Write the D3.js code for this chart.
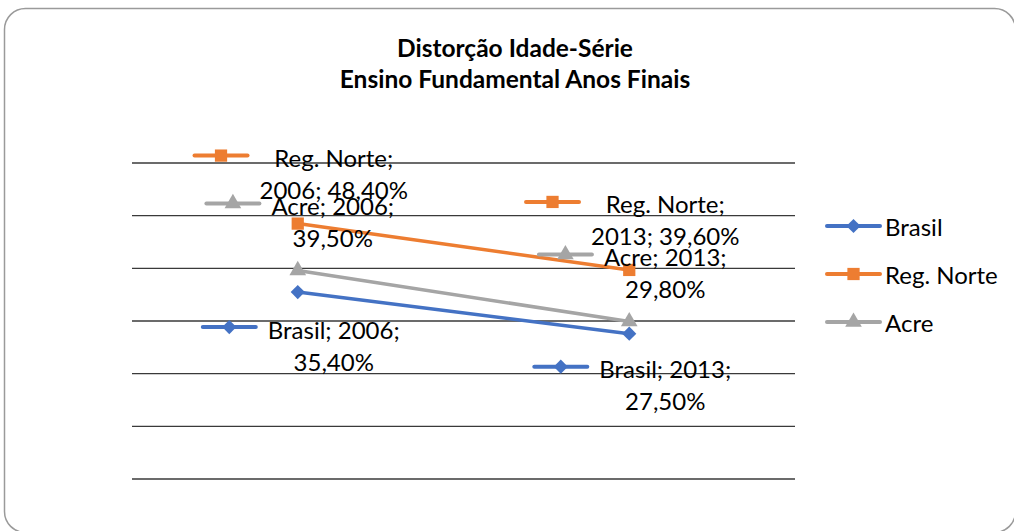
<!DOCTYPE html>
<html><head><meta charset="utf-8">
<script src="https://cdn.jsdelivr.net/npm/d3@7"></script>
<style>html,body{margin:0;padding:0;background:#fff;} svg{display:block;}</style>
</head><body>
<script>
// ---- data ----
const categories = ["2006", "2013"];
const seriesNames = ["Brasil", "Reg. Norte", "Acre"];
const brasil = [35.4, 27.5];
const regNorte = [48.4, 39.6];
const acre = [39.5, 29.8];
const yTicks = [0, 10, 20, 30, 40, 50, 60];
const titleLines = ["Distorção Idade-Série", "Ensino Fundamental Anos Finais"];

// label offsets (block centre dx, first line dy) relative to data point
const labelOffsets = {
  "Brasil": [[3, 37], [3, 35]],
  "Reg. Norte": [[3, -66], [3, -66]],
  "Acre": [[2, -65], [3, -65]]
};

const W = 1014, H = 531;
const FONT = "Lato, 'Open Sans', sans-serif";
const colors = {"Brasil": "#4472C4", "Reg. Norte": "#ED7D31", "Acre": "#A5A5A5"};
const symbols = {"Brasil": d3.symbolSquare, "Reg. Norte": d3.symbolSquare, "Acre": d3.symbolTriangle};
const symRot = {"Brasil": 45, "Reg. Norte": 0, "Acre": 0};
const symSize = {"Brasil": 100, "Reg. Norte": 150, "Acre": 120};

const series = [
  {name: seriesNames[0], values: brasil},
  {name: seriesNames[1], values: regNorte},
  {name: seriesNames[2], values: acre}
];

const svg = d3.select("body").append("svg").attr("width", W).attr("height", H);

// frame
svg.append("rect").attr("x", 4.5).attr("y", 8.5).attr("width", 1011).attr("height", 524)
  .attr("rx", 21).attr("ry", 21).attr("fill", "#fff").attr("stroke", "#9a9a9a").attr("stroke-width", 1.5);

// title
const title = svg.append("text").attr("text-anchor", "middle").attr("font-family", FONT)
  .attr("font-weight", "bold").attr("font-size", 24.5).attr("fill", "#000");
titleLines.forEach((t, i) => title.append("tspan").attr("x", 515).attr("y", 57 + i * 31).text(t));

const x = d3.scaleBand().domain(categories).range([132, 795]);
const y = d3.scaleLinear().domain([0, 60]).range([478.5, 162.5]);
const px = c => x(c) + x.bandwidth() / 2;

// gridlines
const yAxis = d3.axisLeft(y).tickValues(yTicks).tickSize(-(795 - 132)).tickFormat("");
const ga = svg.append("g").attr("transform", "translate(132,0)").call(yAxis);
ga.select(".domain").remove();
ga.selectAll(".tick line").attr("stroke", "#3a3a3a").attr("stroke-width", 1.3);

// lines
const line = d3.line().x((d, i) => px(categories[i])).y(d => y(d));
series.forEach(s => {
  svg.append("path").datum(s.values).attr("d", line).attr("fill", "none")
    .attr("stroke", colors[s.name]).attr("stroke-width", 3.5).attr("stroke-linecap", "round");
});
series.forEach(s => {
  svg.selectAll(null).data(s.values).enter().append("path")
    .attr("d", d3.symbol().type(symbols[s.name]).size(symSize[s.name]))
    .attr("transform", (d, i) => `translate(${px(categories[i])},${y(d)}) rotate(${symRot[s.name]})`)
    .attr("fill", colors[s.name]);
});

function keyGlyph(g, name, x0, yc) {
  g.append("line").attr("x1", x0).attr("x2", x0 + 53).attr("y1", yc).attr("y2", yc)
    .attr("stroke", colors[name]).attr("stroke-width", 4).attr("stroke-linecap", "round");
  g.append("path").attr("d", d3.symbol().type(symbols[name]).size(symSize[name]))
    .attr("transform", `translate(${x0 + 26.5},${yc}) rotate(${symRot[name]})`).attr("fill", colors[name]);
}

// data labels
const LS = 32, KEY = 55, GAP = 11, LFS = 24;
const fmt = v => v.toFixed(2).replace(".", ",") + "%";
series.forEach(s => {
  s.values.forEach((v, i) => {
    const cat = categories[i];
    const [dx, dy] = labelOffsets[s.name][i];
    const cx = px(cat) + dx, cy = y(v) + dy;
    let lines = [s.name + "; " + cat + ";", fmt(v)];
    if (s.name === "Reg. Norte") lines = [s.name + ";", cat + "; " + fmt(v)];
    const g = svg.append("g");
    const texts = lines.map((t, k) => g.append("text").attr("font-family", FONT).attr("font-size", LFS)
      .attr("fill", "#000").attr("text-anchor", "middle").attr("dominant-baseline", "central")
      .attr("y", cy + k * LS).text(t));
    const wMax = d3.max(texts, t => t.node().getComputedTextLength());
    const left = cx - (KEY + GAP + wMax) / 2;
    texts.forEach(t => t.attr("x", left + KEY + GAP + wMax / 2));
    keyGlyph(g, s.name, left + 1, cy - 2);
  });
});

// legend
const legY = [226, 274, 322];
series.forEach((s, i) => {
  const g = svg.append("g");
  keyGlyph(g, s.name, 827, legY[i]);
  g.append("text").attr("x", 885).attr("y", legY[i]).attr("dominant-baseline", "central")
    .attr("font-family", FONT).attr("font-size", LFS).attr("fill", "#000").text(s.name);
});
</script>
</body></html>
